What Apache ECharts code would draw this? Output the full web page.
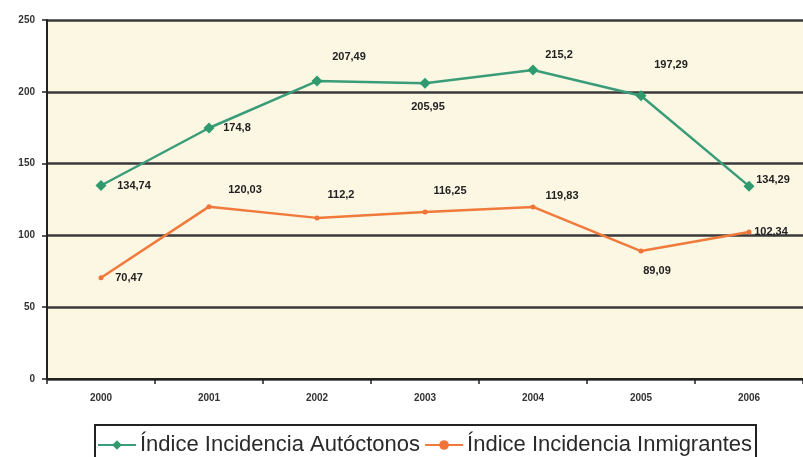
<!DOCTYPE html>
<html><head><meta charset="utf-8">
<script src="https://cdn.jsdelivr.net/npm/echarts@6/dist/echarts.min.js"></script>
<style>html,body{margin:0;padding:0;background:#fff}#c{width:803px;height:457px}</style>
</head><body><div id="c"></div>
<script>
const years = ['2000','2001','2002','2003','2004','2005','2006'];
const autoctonos = [134.74, 174.8, 207.49, 205.95, 215.2, 197.29, 134.29];
const inmigrantes = [70.47, 120.03, 112.2, 116.25, 119.83, 89.09, 102.34];
const yTicks = [0, 50, 100, 150, 200, 250];

const seriesNames = ['Índice Incidencia Autóctonos', 'Índice Incidencia Inmigrantes'];
// label placement (style, not data)
const offA = [[33,0],[28,0],[32,-24],[3,24],[26,-15],[30,-31],[24,-6]];
const offI = [[28,0],[36,-17],[24,-23],[25,-21],[29,-11],[16,20],[22,0]];

const fmt = v => String(v).replace('.', ',');
const lblStyle = {fontFamily:'Liberation Sans, Arial', fontWeight:'bold', fontSize:11, color:'#222'};

function mk(vals, offs){
  return vals.map((v,i)=>({value:v, label:Object.assign({show:true, position:'inside', offset:offs[i], formatter:fmt(v)}, lblStyle)}));
}

const chart = echarts.init(document.getElementById('c'), null, {renderer:'canvas'});
chart.setOption({
  backgroundColor:'#ffffff',
  animation:false,
  grid:{left:47, top:20, right:-4, bottom:78, show:true, backgroundColor:'#FCF7E3', borderWidth:0},
  legend:{
    data:seriesNames, left:95, top:425,
    borderColor:'#222', borderWidth:2, padding:[9,4,10,2], itemGap:4,
    itemWidth:38, itemHeight:12,
    textStyle:{fontFamily:'Liberation Sans, Arial', fontSize:22, color:'#2a2a2a', padding:[0,0,0,-1]}
  },
  xAxis:{
    type:'category', data:years, boundaryGap:true,
    axisLine:{lineStyle:{color:'#222', width:2}},
    axisTick:{show:true, length:5, lineStyle:{color:'#222', width:1.5}},
    axisLabel:{margin:14, fontFamily:'Liberation Sans, Arial', fontWeight:'bold', fontSize:10, color:'#333'}
  },
  yAxis:{
    type:'value', min:yTicks[0], max:yTicks[yTicks.length-1], interval:yTicks[1]-yTicks[0],
    axisLine:{show:true, lineStyle:{color:'#222', width:2}},
    axisTick:{show:true, length:5, lineStyle:{color:'#222', width:1.5}},
    axisLabel:{margin:12, fontFamily:'Liberation Sans, Arial', fontWeight:'bold', fontSize:10, color:'#333'},
    splitLine:{lineStyle:{color:'#3a3a3a', width:2.5}}
  },
  series:[
    {name:seriesNames[0], type:'line', data:mk(autoctonos, offA),
     symbol:'diamond', symbolSize:11, color:'#2E9A6E',
     lineStyle:{color:'#3A9C78', width:2.5}, itemStyle:{color:'#2E9A6E'}},
    {name:seriesNames[1], type:'line', data:mk(inmigrantes, offI),
     symbol:'circle', symbolSize:5, color:'#F0743A',
     lineStyle:{color:'#F07A3C', width:2.5}, itemStyle:{color:'#F0743A'}}
  ]
});
</script></body></html>
